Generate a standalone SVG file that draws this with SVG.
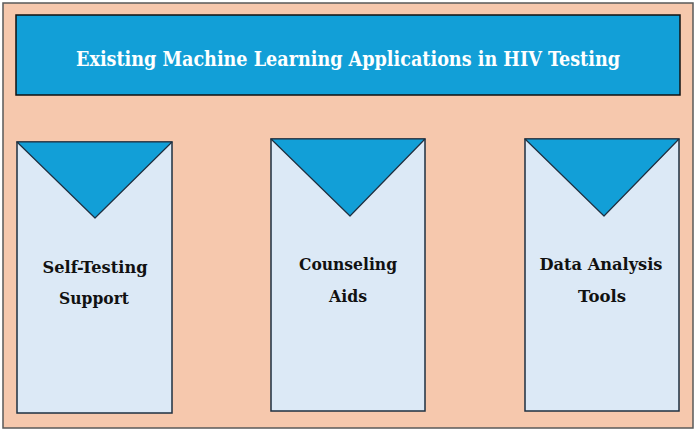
<svg xmlns="http://www.w3.org/2000/svg" width="697" height="432" viewBox="0 0 697 432">
<style>
.bg{fill:#F6C8AD;stroke:#5a5a5a;stroke-width:1.5}
.title{fill:#129FD7;stroke:#111;stroke-width:1.5}
.card{fill:#DCE9F6;stroke:#1E2F40;stroke-width:1.5}
.tri{fill:#129FD7;stroke:#1E2F40;stroke-width:1.2;stroke-linejoin:round}
.tt{font-family:"DejaVu Serif","Liberation Serif",serif;font-weight:bold;font-size:20px;fill:#fff;text-anchor:middle}
.ct{font-family:"DejaVu Serif","Liberation Serif",serif;font-weight:bold;font-size:17px;fill:#111;text-anchor:middle}
</style>
<rect class="bg" x="3" y="3" width="690" height="425"/>
<g id="title">
<rect class="title" x="16" y="15" width="664" height="80"/>
<text class="tt" x="348" y="66" textLength="544" lengthAdjust="spacingAndGlyphs">Existing Machine Learning Applications in HIV Testing</text>
</g>
<g id="self-testing">
<rect class="card" x="17" y="142" width="155" height="271"/>
<polygon class="tri" points="17,142 172,142 95,218"/>
<text class="ct" x="95" y="273" textLength="105" lengthAdjust="spacingAndGlyphs">Self-Testing</text>
<text class="ct" x="94" y="304" textLength="70" lengthAdjust="spacingAndGlyphs">Support</text>
</g>
<g id="counseling">
<rect class="card" x="271" y="139" width="154" height="272"/>
<polygon class="tri" points="271,139 425,139 350,216"/>
<text class="ct" x="348" y="270" textLength="98" lengthAdjust="spacingAndGlyphs">Counseling</text>
<text class="ct" x="348" y="302" textLength="38" lengthAdjust="spacingAndGlyphs">Aids</text>
</g>
<g id="data-analysis">
<rect class="card" x="525" y="139" width="154" height="272"/>
<polygon class="tri" points="525,139 679,139 604,216"/>
<text class="ct" x="601" y="270" textLength="123" lengthAdjust="spacingAndGlyphs">Data Analysis</text>
<text class="ct" x="602" y="302" textLength="48" lengthAdjust="spacingAndGlyphs">Tools</text>
</g>
<g id="connectors"/>
</svg>
